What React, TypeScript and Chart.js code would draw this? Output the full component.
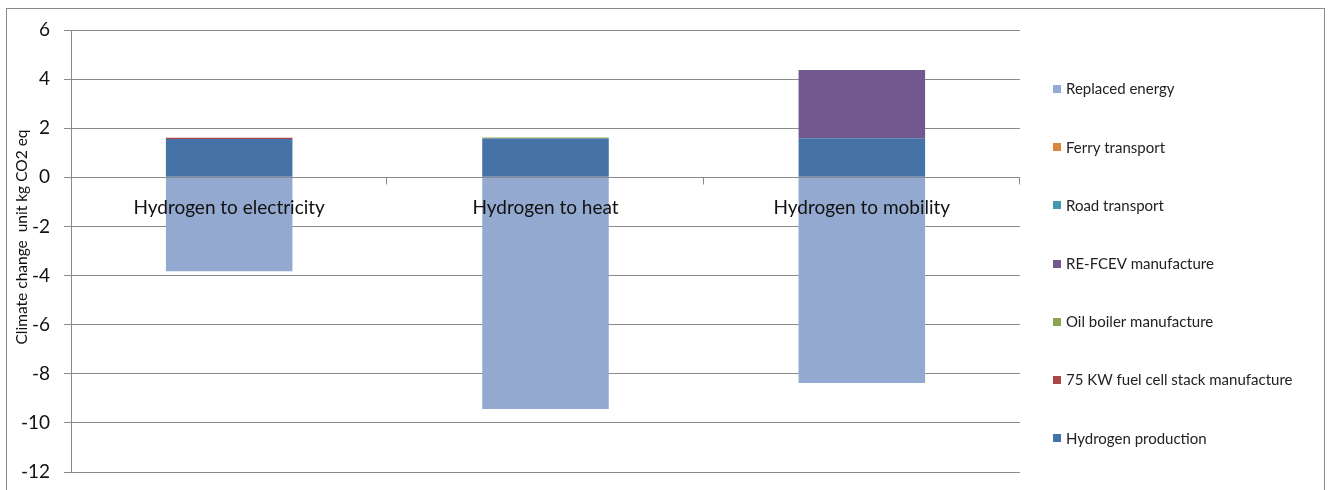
import React, { useEffect, useRef } from "react";
import { Chart, registerables } from "chart.js";

Chart.register(...registerables);

const categories = ["Hydrogen to electricity", "Hydrogen to heat", "Hydrogen to mobility"];

// Stacked contributions per pathway (kg CO2 eq)
const hydrogenProduction = [1.56, 1.58, 1.59];
const fuelCellStack = [0.05, 0, 0];
const oilBoiler = [0, 0.04, 0];
const reFcev = [0, 0, 2.78];
const roadTransport = [0, 0, 0];
const ferryTransport = [0, 0, 0];
const replacedEnergy = [-3.82, -9.43, -8.38];

const yTicks = [-12, -10, -8, -6, -4, -2, 0, 2, 4, 6];

const FONT = "Lato, 'Open Sans', sans-serif";
const GRID = "#8a8a8a";

const seriesDefs = [
  { label: "Hydrogen production", data: hydrogenProduction, color: "#4572a7" },
  { label: "75 KW fuel cell stack manufacture", data: fuelCellStack, color: "#aa4643" },
  { label: "Oil boiler manufacture", data: oilBoiler, color: "#89a54e" },
  { label: "RE-FCEV manufacture", data: reFcev, color: "#71588f" },
  { label: "Road transport", data: roadTransport, color: "#4198af" },
  { label: "Ferry transport", data: ferryTransport, color: "#db843d" },
  { label: "Replaced energy", data: replacedEnergy, color: "#93a9cf" },
];

// Frame, zero axis, category labels, axis title and legend
const decorations = {
  id: "decorations",
  afterDatasetsDraw(chart: any) {
    const { ctx, chartArea, scales } = chart;
    const x = scales.x;
    const y = scales.y;
    const y0 = Math.round(y.getPixelForValue(0)) + 0.5;
    ctx.save();
    // horizontal axis at zero, over the bars
    ctx.strokeStyle = GRID;
    ctx.lineWidth = 1;
    ctx.beginPath();
    ctx.moveTo(chartArea.left, y0);
    ctx.lineTo(chartArea.right, y0);
    const half = (x.getPixelForValue(1) - x.getPixelForValue(0)) / 2;
    categories.forEach((_, i) => {
      const bx = Math.round(x.getPixelForValue(i) + half) - 0.5;
      ctx.moveTo(bx, y0);
      ctx.lineTo(bx, y0 + 7);
    });
    ctx.stroke();

    // category labels just below the zero line
    ctx.fillStyle = "#111111";
    ctx.font = `19px ${FONT}`;
    ctx.textAlign = "center";
    ctx.textBaseline = "alphabetic";
    categories.forEach((c, i) => {
      ctx.fillText(c, x.getPixelForValue(i), y0 + 36);
    });

    // y-axis title
    ctx.save();
    ctx.translate(22, 237);
    ctx.rotate(-Math.PI / 2);
    ctx.font = `15.5px ${FONT}`;
    ctx.textBaseline = "middle";
    ctx.fillStyle = "#111111";
    ctx.fillText("Climate change  unit kg CO2 eq", 0, 0);
    ctx.restore();

    // legend, listed top-down in reverse stack order
    const items = [...seriesDefs].reverse();
    ctx.font = `15px ${FONT}`;
    ctx.textAlign = "left";
    ctx.textBaseline = "middle";
    items.forEach((s, i) => {
      const cy = 89 + i * 58.2;
      ctx.fillStyle = s.color;
      ctx.fillRect(1053, Math.round(cy - 4), 8, 8);
      ctx.fillStyle = "#222222";
      ctx.fillText(s.label, 1066, cy + 0.5);
    });

    // outer frame
    ctx.strokeStyle = GRID;
    ctx.lineWidth = 1;
    ctx.strokeRect(6.5, 8.5, 1318, 500);
    ctx.restore();
  },
};

export default function App() {
  const ref = useRef<HTMLCanvasElement | null>(null);

  useEffect(() => {
    if (!ref.current) return;
    const chart = new Chart(ref.current, {
      type: "bar",
      data: {
        labels: categories,
        datasets: seriesDefs.map((s) => ({
          label: s.label,
          data: s.data,
          backgroundColor: s.color,
          borderWidth: 0,
          stack: "all",
          categoryPercentage: 1,
          barPercentage: 0.4,
        })),
      },
      options: {
        animation: false,
        responsive: false,
        maintainAspectRatio: false,
        layout: { padding: { left: 0, right: 310, top: 30, bottom: 18 } },
        plugins: {
          legend: { display: false },
          tooltip: { enabled: false },
        },
        scales: {
          x: {
            display: false,
            stacked: true,
          },
          y: {
            stacked: true,
            min: -12,
            max: 6,
            afterBuildTicks: (scale: any) => {
              scale.ticks = yTicks.map((v) => ({ value: v }));
            },
            afterFit: (scale: any) => {
              scale.width = 71;
              scale.paddingTop = 0;
              scale.paddingBottom = 0;
            },
            grid: {
              color: GRID,
              lineWidth: 1,
              tickLength: 7,
              drawOnChartArea: true,
            },
            border: { display: true, color: GRID, width: 1 },
            ticks: {
              padding: 14,
              color: "#111111",
              font: { family: FONT, size: 19 },
            },
          },
        },
      },
      plugins: [decorations],
    });
    return () => chart.destroy();
  }, []);

  return (
    <div style={{ position: "fixed", left: 0, top: 0, width: 1330, height: 490, background: "#ffffff" }}>
      <canvas ref={ref} width={1330} height={490} style={{ display: "block" }} />
    </div>
  );
}
